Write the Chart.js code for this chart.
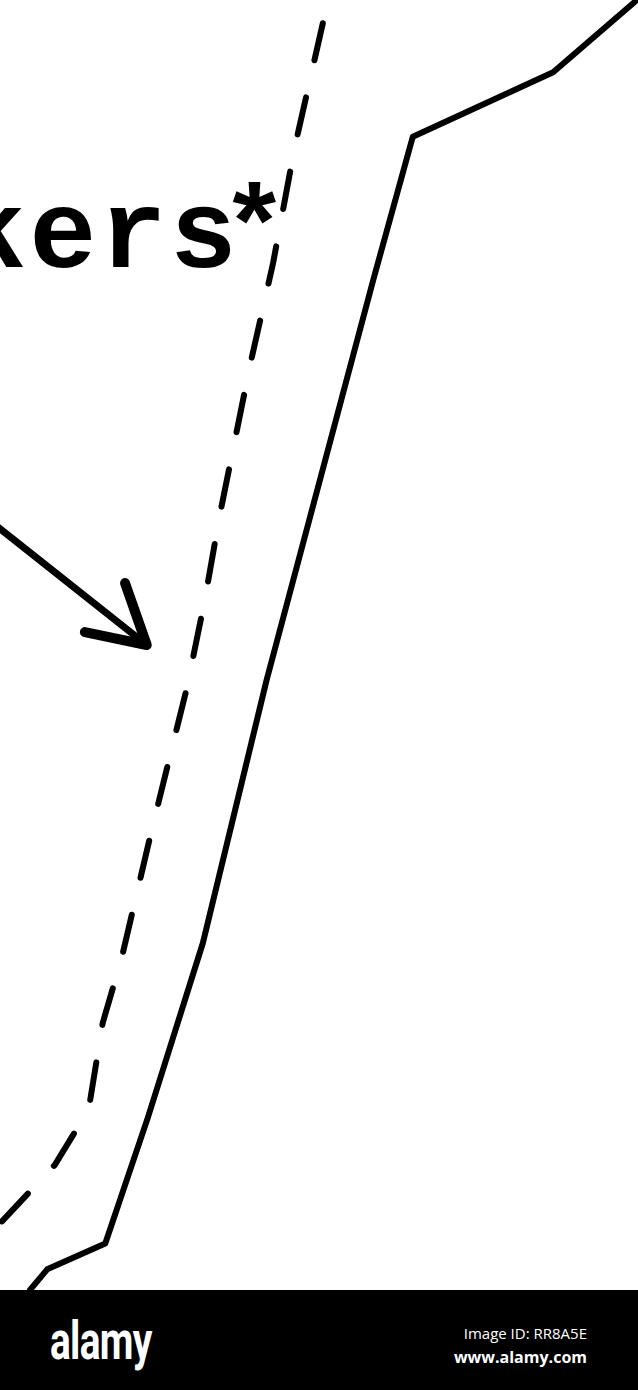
<!DOCTYPE html>
<html>
<head>
<meta charset="utf-8">
<script src="https://cdn.jsdelivr.net/npm/chart.js@4.4.1/dist/chart.umd.min.js"></script>
<style>
  html, body { margin: 0; padding: 0; background: #fff; }
  body { width: 638px; height: 1390px; position: relative; overflow: hidden; }
  #plot { position: absolute; left: 0; top: 0; width: 638px; height: 1290px; }
  .label {
    position: absolute; left: -41px; top: 173px;
    font-family: "Liberation Mono", "DejaVu Sans Mono", monospace;
    font-weight: bold; font-size: 112px; line-height: 130px; letter-spacing: 3px;
    color: #000; white-space: nowrap;
  }
  .label .star { margin-left: -19px; position: relative; top: -4px; }
  #band { position: absolute; left: 0; top: 1290px; width: 638px; height: 100px; background: #000; }
  .logo {
    position: absolute; left: 50px; top: 21px;
    font-family: Roboto, sans-serif; font-weight: bold; font-size: 54px; line-height: 60px;
    color: #fff; transform: scaleX(0.72); transform-origin: left top; letter-spacing: -1px;
  }
  .imgid, .site {
    position: absolute; right: 51px; color: #fff; font-family: "Open Sans", sans-serif; white-space: nowrap;
  }
  .imgid { top: 33px; font-size: 15px; line-height: 20px; }
  .site { top: 56px; font-size: 16px; line-height: 22px; font-weight: bold; }
</style>
</head>
<body>
<div id="plot"><canvas id="chart"></canvas></div>
<div class="label">kers<span class="star">*</span></div>
<div id="band">
  <div class="logo">alamy</div>
  <div class="imgid">Image ID: RR8A5E</div>
  <div class="site">www.alamy.com</div>
</div>
<script>
// values, axis units 0..100 both ways
const solidX = [4.7, 7.4, 16.5, 23.2, 31.8, 41.8, 58.5, 64.7, 86.7, 100.3];
const solidY = [0, 1.6, 3.6, 13.4, 26.9, 47.3, 78.3, 89.4, 94.4, 100.2];

const dashX = [50.6, 46.2, 42.8, 39.2, 34.5, 32.1, 29.3, 23.8, 19.1, 16.1, 13.9, 8.6, -0.5];
const dashY = [98.2, 88.6, 79.6, 71.7, 60.2, 53.5, 46.7, 35.7, 25.8, 20.7, 14.0, 9.7, 4.9];

// pointer arrow: shaft and head
const shaftX = [-1, 23.0];
const shaftY = [59.4, 50.0];
const headX = [19.6, 23.0, 13.3];
const headY = [54.8, 50.0, 51.0];

function toPoints(xs, ys) {
    return xs.map((x, i) => ({ x: x, y: ys[i] }));
}

const lineStyle = {
    borderColor: '#000',
    backgroundColor: '#000',
    pointRadius: 0,
    tension: 0,
    fill: false
};

new Chart(document.getElementById('chart').getContext('2d'), {
    type: 'line',
    data: {
        datasets: [
            Object.assign({ data: toPoints(solidX, solidY), borderWidth: 6, borderJoinStyle: 'round', borderCapStyle: 'round' }, lineStyle),
            Object.assign({ data: toPoints(dashX, dashY), borderWidth: 6, borderDash: [38, 38], borderCapStyle: 'round' }, lineStyle),
            Object.assign({ data: toPoints(shaftX, shaftY), borderWidth: 7, borderCapStyle: 'round' }, lineStyle),
            Object.assign({ data: toPoints(headX, headY), borderWidth: 10, borderJoinStyle: 'round', borderCapStyle: 'round' }, lineStyle)
        ]
    },
    options: {
        responsive: true,
        maintainAspectRatio: false,
        animation: false,
        layout: { padding: 0 },
        plugins: { legend: { display: false }, tooltip: { enabled: false } },
        scales: {
            x: { type: 'linear', min: 0, max: 100, display: false },
            y: { type: 'linear', min: 0, max: 100, display: false }
        }
    }
});
</script>
</body>
</html>
